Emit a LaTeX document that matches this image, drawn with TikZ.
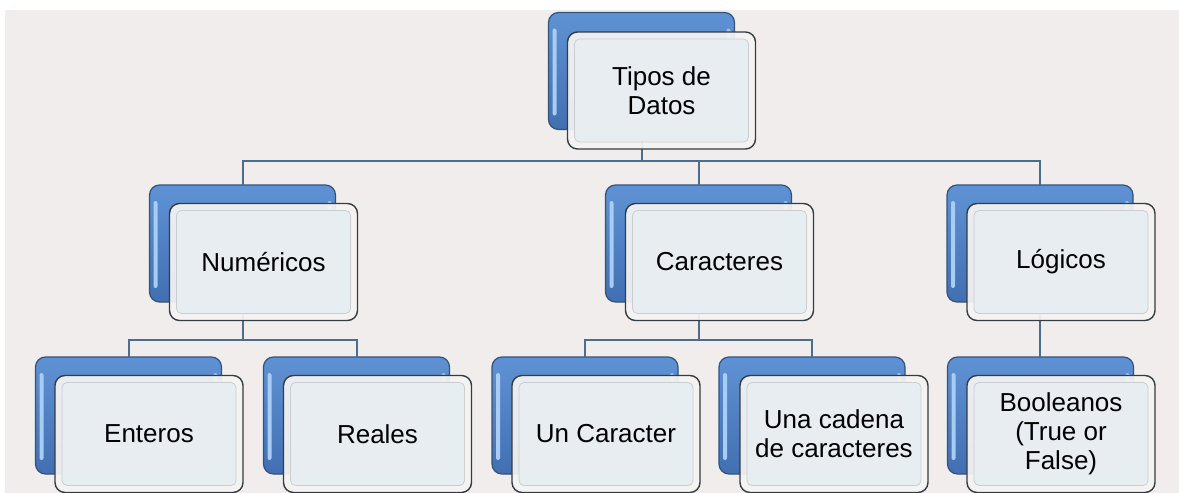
\documentclass[tikz,border=0pt]{standalone}
\usepackage{fontspec}
\setmainfont{Liberation Sans}
\definecolor{bgray}{HTML}{F0EDEC}
\definecolor{blueT}{HTML}{5F92D4}
\definecolor{blueB}{HTML}{416FB2}
\definecolor{blueE}{HTML}{34537B}
\definecolor{blueH}{HTML}{A9CDF2}
\definecolor{frontE}{HTML}{343C44}
\definecolor{frontO}{HTML}{F5F4F3}
\definecolor{frontI}{HTML}{E7EEF2}
\definecolor{frontL}{HTML}{CCCDCE}
\definecolor{connC}{HTML}{4E6C8C}
\tikzset{
  backbox/.style={draw=blueE, line width=1.2pt, rounded corners=10pt,
    top color=blueT, bottom color=blueB, minimum width=186pt, minimum height=117pt,
    inner sep=0pt, outer sep=0pt,
    path picture={
      \fill[blueH, rounded corners=2pt] ([shift={(4pt,-16pt)}]path picture bounding box.north west)
        rectangle ([shift={(8pt,14pt)}]path picture bounding box.south west);
      \fill[blueH!80!blueT, rounded corners=2pt] ([shift={(-8pt,-16pt)}]path picture bounding box.north east)
        rectangle ([shift={(-4pt,40pt)}]path picture bounding box.south east);
    }},
  frontbox/.style={draw=frontE, line width=1.4pt, rounded corners=10pt,
    fill=frontO, fill opacity=0.93, text opacity=1, minimum width=188pt, minimum height=117pt,
    inner sep=2pt, outer sep=0pt, align=center, text=black,
    font=\fontsize{26}{29}\selectfont,
    path picture={
      \draw[frontL, fill=frontI, line width=0.8pt, rounded corners=5pt]
        ([shift={(7pt,-7pt)}]path picture bounding box.north west)
        rectangle ([shift={(-7pt,7pt)}]path picture bounding box.south east);
    }},
  conn/.style={draw=connC, line width=2pt}
}
\begin{document}
\begin{tikzpicture}[x=1pt,y=-1pt]
\useasboundingbox (0,0) rectangle (1179,493);
\fill[white] (0,0) rectangle (1179,493);
\fill[bgray] (5,10) rectangle (1179,493);

% back boxes
\node[backbox] (tb) at (641.5,71) {};
\node[backbox] (num) at (242.5,243.5) {};
\node[backbox] (car) at (698.5,243.5) {};
\node[backbox] (log) at (1040,243.5) {};
\node[backbox] (ent) at (128.5,415.5) {};
\node[backbox] (rea) at (356.5,415.5) {};
\node[backbox] (unc) at (585,415.5) {};
\node[backbox] (cad) at (812,415.5) {};
\node[backbox] (boo) at (1040.5,415.5) {};

% connectors (behind the front boxes)
\draw[conn] (tb.south) -- ++(0,31) -| (num.north);
\draw[conn] (tb.south) -- ++(0,31) -| (car.north);
\draw[conn] (tb.south) -- ++(0,31) -| (log.north);
\draw[conn] (num.south) -- ++(0,38) -| (ent.north);
\draw[conn] (num.south) -- ++(0,38) -| (rea.north);
\draw[conn] (car.south) -- ++(0,38) -| (unc.north);
\draw[conn] (car.south) -- ++(0,38) -| (cad.north);
\draw[conn] (log.south) -- (log.south |- boo.north);

% front boxes
\node[frontbox] (tbf) at ([shift={(20,19.5)}]tb.center) {Tipos de\\Datos};
\node[frontbox] (numf) at ([shift={(21,18.5)}]num.center) {Numéricos};
\node[frontbox] (carf) at ([shift={(21,18.5)}]car.center) {Caracteres};
\node[frontbox] (logf) at ([shift={(21,18.5)}]log.center) {Lógicos};
\node[frontbox] (entf) at ([shift={(20.5,18.5)}]ent.center) {Enteros};
\node[frontbox] (reaf) at ([shift={(21,18.5)}]rea.center) {Reales};
\node[frontbox] (uncf) at ([shift={(21,18.5)}]unc.center) {Un Caracter};
\node[frontbox] (cadf) at ([shift={(22,18.5)}]cad.center) {Una cadena\\de caracteres};
\node[frontbox] (boof) at ([shift={(20.5,18.5)}]boo.center) {Booleanos\\(True or\\False)};
\end{tikzpicture}
\end{document}
